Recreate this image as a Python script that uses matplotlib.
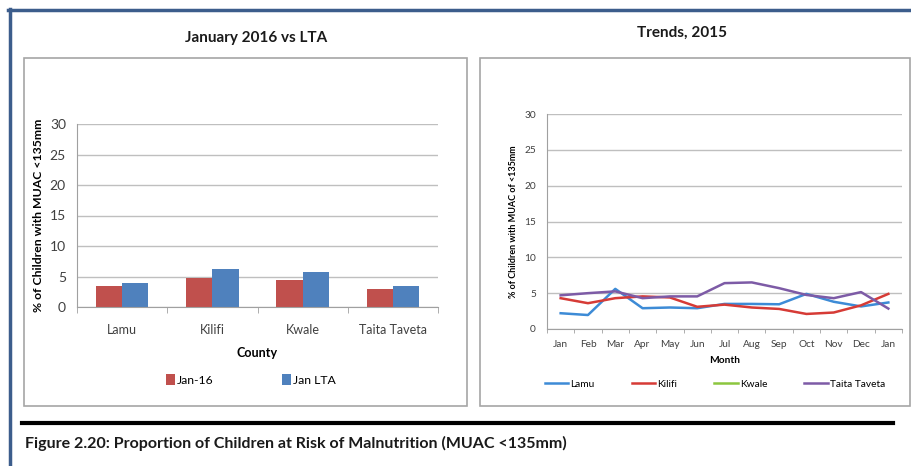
import numpy as np
import matplotlib
matplotlib.use("Agg")
import matplotlib.pyplot as plt
from matplotlib.patches import Rectangle
from matplotlib.lines import Line2D

plt.rcParams["font.family"] = ["Lato", "DejaVu Sans"]

counties = ["Lamu", "Kilifi", "Kwale", "Taita Taveta"]
jan16 = [3.5, 4.8, 4.5, 2.9]
jan_lta = [4.0, 6.3, 5.8, 3.4]

months = ["Jan", "Feb", "Mar", "Apr", "May", "Jun", "Jul", "Aug", "Sep", "Oct", "Nov", "Dec", "Jan"]
lamu = [2.2, 1.95, 5.6, 2.9, 3.0, 2.9, 3.5, 3.5, 3.45, 4.9, 3.8, 3.15, 3.7]
kilifi = [4.3, 3.6, 4.3, 4.55, 4.4, 3.1, 3.4, 3.0, 2.8, 2.1, 2.3, 3.3, 4.9]
kwale = [np.nan] * 13
taita = [4.7, 5.0, 5.25, 4.3, 4.55, 4.55, 6.4, 6.5, 5.7, 4.75, 4.3, 5.15, 2.85]

W, H = 911, 466
fig = plt.figure(figsize=(W / 100, H / 100), dpi=100)
fig.patch.set_facecolor("white")


def fx(px):
    return px / W


def fy(py):
    return 1 - py / H


# page frame
fig.add_artist(Line2D([fx(8), 1], [fy(10), fy(10)], color="#3C5D8C", lw=2.5))
fig.add_artist(Line2D([fx(9.5), fx(9.5)], [fy(9), 0], color="#3C5D8C", lw=2.5))

# panel boxes
for x0, x1 in [(24, 467), (480, 910)]:
    fig.add_artist(Rectangle((fx(x0), fy(406)), fx(x1 - x0), fy(58) - fy(406),
                             fill=False, edgecolor="#A6A6A6", lw=1.2))

grid_c = "#BFBFBF"
txt_c = "#404040"


def style(ax):
    for s in ["top", "right"]:
        ax.spines[s].set_visible(False)
    ax.spines["left"].set_color("#A0A0A0")
    ax.spines["bottom"].set_color("#A0A0A0")
    ax.yaxis.grid(True, color=grid_c, lw=1)
    ax.set_axisbelow(True)
    ax.tick_params(axis="y", length=0, colors=txt_c)
    ax.tick_params(axis="x", which="major", length=0, colors=txt_c)
    ax.tick_params(axis="x", which="minor", length=4, color="#A0A0A0", direction="out")


# left: bar chart
ax1 = fig.add_axes([fx(77), fy(307), fx(438 - 77), fy(124) - fy(307)])
x = np.arange(len(counties))
bw = 0.29
ax1.bar(x - bw / 2, jan16, bw, color="#C0504D", label="Jan-16")
ax1.bar(x + bw / 2, jan_lta, bw, color="#4F81BD", label="Jan LTA")
ax1.set_xlim(-0.5, len(counties) - 0.5)
ax1.set_ylim(0, 30)
ax1.set_yticks(range(0, 31, 5))
ax1.set_xticks(x)
ax1.set_xticklabels(counties, fontsize=9)
ax1.set_xticks(np.arange(-0.5, len(counties), 1), minor=True)
style(ax1)
ax1.tick_params(axis="y", labelsize=10, pad=8)
ax1.tick_params(axis="x", which="major", pad=12)
ax1.set_xlabel("County", fontsize=9, fontweight="bold", labelpad=8)
ax1.set_ylabel("% of Children with MUAC <135mm", fontsize=8.8, fontweight="bold", labelpad=4)
ax1.legend(loc="center left", bbox_to_anchor=(fx(166), fy(380), fx(170), 0.0),
           bbox_transform=fig.transFigure, mode="expand", ncol=2, frameon=False,
           fontsize=8.8, handlelength=0.7, handleheight=0.9, handletextpad=0.2,
           borderaxespad=0, borderpad=0)
fig.text(fx(256), fy(38), "January 2016 vs LTA", ha="center", va="center",
         fontsize=11, fontweight="bold", color="#1A1A1A")

# right: line chart
ax2 = fig.add_axes([fx(547), fy(329), fx(902 - 547), fy(114) - fy(329)])
xm = np.arange(len(months))
ax2.plot(xm, lamu, color="#3D8BD6", lw=1.8, label="Lamu")
ax2.plot(xm, kilifi, color="#D63B36", lw=1.8, label="Kilifi")
ax2.plot(xm, kwale, color="#8CC63F", lw=1.8, label="Kwale")
ax2.plot(xm, taita, color="#7D5BA6", lw=1.8, label="Taita Taveta")
ax2.set_xlim(-0.5, len(months) - 0.5)
ax2.set_ylim(0, 30)
ax2.set_yticks(range(0, 31, 5))
ax2.set_xticks(xm)
ax2.set_xticklabels(months, fontsize=7.3)
ax2.set_xticks(np.arange(-0.5, len(months), 1), minor=True)
style(ax2)
ax2.tick_params(axis="y", labelsize=7.3, pad=8)
ax2.tick_params(axis="x", which="major", pad=8)
ax2.tick_params(axis="x", which="minor", length=3)
ax2.set_xlabel("Month", fontsize=7.3, fontweight="bold", labelpad=5)
ax2.set_ylabel("% of Children with MUAC of <135mm", fontsize=6.5, fontweight="bold", labelpad=4)
ax2.legend(loc="center left", bbox_to_anchor=(fx(545), fy(384), fx(340), 0.0),
           bbox_transform=fig.transFigure, mode="expand", ncol=4, frameon=False,
           fontsize=7.3, handlelength=2.3, handletextpad=0.2,
           borderaxespad=0, borderpad=0)
fig.text(fx(682), fy(33), "Trends, 2015", ha="center", va="center",
         fontsize=11, fontweight="bold", color="#1A1A1A")

# caption
fig.add_artist(Line2D([fx(22), fx(893)], [fy(423), fy(423)], color="black", lw=3))
fig.text(fx(25), fy(443), "Figure 2.20: Proportion of Children at Risk of Malnutrition (MUAC <135mm)",
         ha="left", va="center", fontsize=11.5, fontweight="bold", color="#1A1A1A")

fig.savefig("out.png", dpi=100)
